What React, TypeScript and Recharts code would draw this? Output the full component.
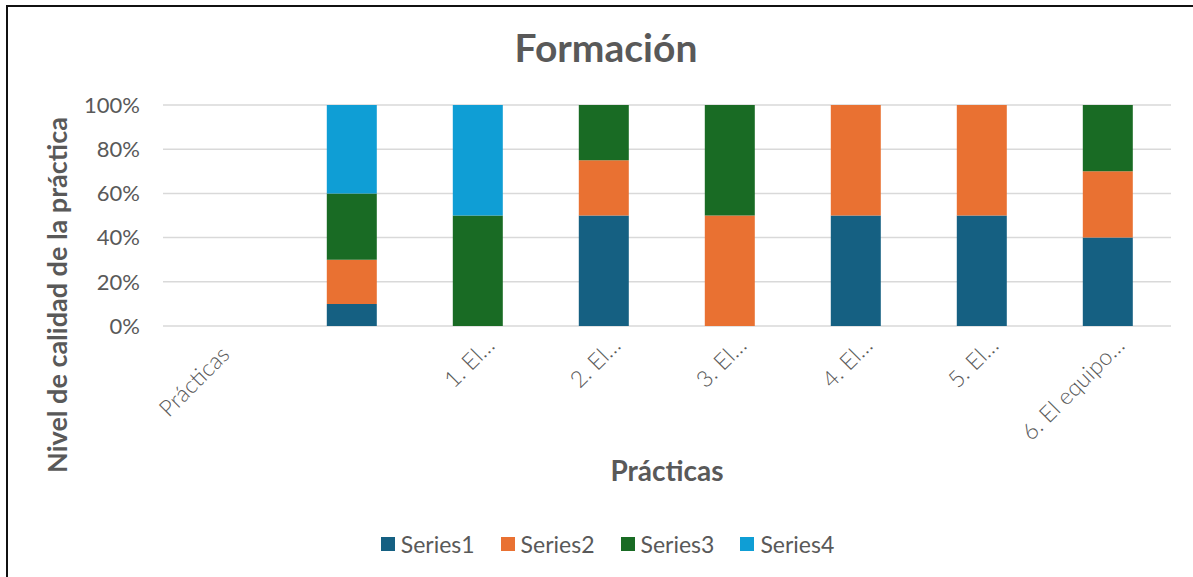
import React from 'react';
import { BarChart, Bar, XAxis, YAxis, CartesianGrid, Legend } from 'recharts';

// categorías del eje X (la segunda viene vacía en el original)
const categories = ['Prácticas', '', '1. El…', '2. El…', '3. El…', '4. El…', '5. El…', '6. El equipo…'];

// porcentajes por serie, en el mismo orden que las categorías
const series1 = [0, 10, 0, 50, 0, 50, 50, 40];
const series2 = [0, 20, 0, 25, 50, 50, 50, 30];
const series3 = [0, 30, 50, 25, 50, 0, 0, 30];
const series4 = [0, 40, 50, 0, 0, 0, 0, 0];

const yTicks = [0, 20, 40, 60, 80, 100];

const seriesNames = ['Series1', 'Series2', 'Series3', 'Series4'];
const COLORS = ['#156082', '#E97132', '#196B24', '#0F9ED5'];

const FONT = 'Lato, "Open Sans", sans-serif';
const TEXT = '#595959';

const data = categories.map((name, i) => ({
  name,
  Series1: series1[i],
  Series2: series2[i],
  Series3: series3[i],
  Series4: series4[i],
}));

// etiquetas giradas -45º; la primera queda algo más abajo en el original
const XTick = ({ x, y, payload, index }: any) => {
  const dx = index === 0 ? 5 : 18;
  const dy = index === 0 ? 30 : 21;
  return (
    <g transform={`translate(${x + dx},${y + dy})`}>
      <text textAnchor="end" transform="rotate(-45)" fill={TEXT} fontSize={23} fontWeight={300} fontFamily={FONT}>
        {payload.value}
      </text>
    </g>
  );
};

const renderLegend = ({ payload }: any) => (
  <div
    style={{
      display: 'flex',
      justifyContent: 'center',
      gap: 26,
      fontFamily: FONT,
      fontSize: 23,
      color: TEXT,
      lineHeight: '24px',
    }}
  >
    {(payload || []).map((entry: any) => (
      <span key={entry.value} style={{ display: 'flex', alignItems: 'center' }}>
        <span style={{ width: 14, height: 14, background: entry.color, marginRight: 6 }} />
        {entry.value}
      </span>
    ))}
  </div>
);

export default function App() {
  return (
    <div style={{ position: 'absolute', left: 0, top: 0, width: 1193, height: 577, background: '#fff', overflow: 'hidden' }}>
      <div
        style={{
          position: 'absolute',
          left: 6,
          top: 5,
          width: 1200,
          height: 600,
          borderLeft: '2px solid #111',
          borderTop: '2px solid #111',
        }}
      />
      <BarChart
        width={1193}
        height={577}
        data={data}
        margin={{ top: 105, right: 22, left: 0, bottom: 0 }}
        barCategoryGap="30%"
        style={{ position: 'absolute', left: 0, top: 0 }}
      >
        <CartesianGrid vertical={false} stroke="#d9d9d9" strokeWidth={1.5} />
        <XAxis
          dataKey="name"
          height={251}
          tickLine={false}
          axisLine={false}
          tickSize={0}
          tickMargin={0}
          interval={0}
          tick={<XTick />}
        />
        <YAxis
          width={163}
          domain={[0, 100]}
          ticks={yTicks}
          tickFormatter={(v: number) => `${v}%`}
          tickLine={false}
          axisLine={false}
          tickSize={0}
          tickMargin={23}
          tick={{ fill: TEXT, fontSize: 22, fontFamily: FONT }}
        />
        <Legend
          layout="horizontal"
          verticalAlign="middle"
          align="center"
          content={renderLegend}
          wrapperStyle={{ top: 532, left: 11, width: 1193 }}
        />
        {seriesNames.map((s, i) => (
          <Bar key={s} dataKey={s} stackId="a" fill={COLORS[i]} isAnimationActive={false} />
        ))}
      </BarChart>
      <svg
        width={1193}
        height={577}
        style={{ position: 'absolute', left: 0, top: 0, pointerEvents: 'none' }}
      >
        <text x={606} y={62} textAnchor="middle" fontSize={39} fontWeight="bold" fill={TEXT} fontFamily={FONT}>
          Formación
        </text>
        <text
          transform="translate(67,295) rotate(-90)"
          textAnchor="middle"
          fontSize={27}
          fontWeight="bold"
          fill={TEXT}
          fontFamily={FONT}
        >
          Nivel de calidad de la práctica
        </text>
        <text x={667} y={481} textAnchor="middle" fontSize={28} fontWeight="bold" fill={TEXT} fontFamily={FONT}>
          Prácticas
        </text>
      </svg>
    </div>
  );
}
